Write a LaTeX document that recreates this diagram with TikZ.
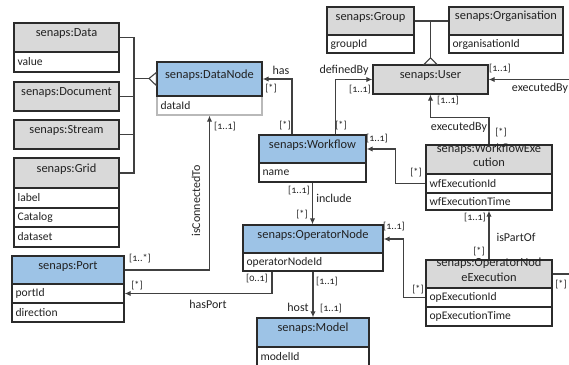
\documentclass[tikz,border=0pt]{standalone}
\usepackage{fontspec}
\setmainfont{Carlito}
\newfontfamily\multfont[Numbers=OldStyle]{Carlito}
\usetikzlibrary{fit,calc,arrows.meta}
\definecolor{hdrblue}{HTML}{9DC3E6}
\definecolor{hdrgray}{HTML}{D9D9D9}
\definecolor{bordc}{HTML}{2B2B2B}
\definecolor{linec}{HTML}{404040}
\definecolor{txtc}{HTML}{222222}
\tikzset{
 box/.style={draw=bordc, line width=1pt, inner sep=0pt, font=\fontsize{9.3}{11}\selectfont, text=txtc, align=center},
 bluebox/.style={box, fill=hdrblue},
 graybox/.style={box, fill=hdrgray},
 rowbox/.style={draw=bordc, line width=1pt, inner sep=0pt, fill=white},
 rowtext/.style={anchor=west, font=\fontsize{8.7}{10}\selectfont, text=txtc, inner sep=0pt},
 conn/.style={draw=linec, line width=0.8pt, -{Latex[length=4.5pt,width=4pt]}},
 plainline/.style={draw=linec, line width=0.8pt},
 lbl/.style={font=\fontsize{9}{10}\selectfont, text=txtc, inner sep=0pt},
 mult/.style={font=\multfont\fontsize{7.6}{8}\selectfont, text=txtc, inner sep=0pt},
}
\newcommand\hdrbox[7]{\node[#6, fit={(#2,#3)(#4,#5)}] (#1) {#7};}
\newcommand\attrow[7]{\node[rowbox, fit={(#2,#3)(#4,#5)}, #6] (#1) {};
  \node[rowtext] at ($(#1.west)+(4,0)$) {#7};}
\begin{document}
\begin{tikzpicture}[x=0.75pt,y=-0.75pt]
\useasboundingbox (0,0) rectangle (569,365);
% ---- classes ----
\hdrbox{data}{14}{23}{119}{52}{graybox}{senaps:Data}
\attrow{data-r1}{14}{52}{119}{72}{}{value}
\hdrbox{doc}{14}{82}{119}{111}{graybox}{senaps:Document}
\hdrbox{stream}{14}{120}{119}{149}{graybox}{senaps:Stream}
\hdrbox{grid}{14}{158}{119}{188}{graybox}{senaps:Grid}
\attrow{grid-r1}{14}{188}{119}{208}{}{label}
\attrow{grid-r2}{14}{208}{119}{227}{}{Catalog}
\attrow{grid-r3}{14}{227}{119}{247}{}{dataset}
\hdrbox{port}{12}{256}{124}{284}{bluebox}{senaps:Port}
\attrow{port-r1}{12}{284}{124}{303}{}{portId}
\attrow{port-r2}{12}{303}{124}{322}{}{direction}
\attrow{dn-r1}{157}{96}{262}{115}{draw=gray!55}{dataId}
\hdrbox{dn}{157}{62}{262}{96}{bluebox}{senaps:DataNode}
\hdrbox{grp}{327}{7}{414}{35}{graybox}{senaps:Group}
\attrow{grp-r1}{327}{35}{414}{53}{}{groupId}
\hdrbox{org}{449}{7}{563}{35}{graybox}{senaps:Organisation}
\attrow{org-r1}{449}{35}{563}{53}{}{organisationId}
\hdrbox{user}{373}{65}{488}{94}{graybox}{senaps:User}
\hdrbox{wf}{259}{135}{366}{163}{bluebox}{senaps:Workflow}
\attrow{wf-r1}{259}{163}{366}{182}{}{name}
\hdrbox{wfe}{426}{145}{552}{174}{graybox}{senaps:WorkflowExe\\cution}
\attrow{wfe-r1}{426}{174}{552}{193}{}{wfExecutionId}
\attrow{wfe-r2}{426}{193}{552}{210}{}{wfExecutionTime}
\hdrbox{opn}{243}{225}{383}{253}{bluebox}{senaps:OperatorNode}
\attrow{opn-r1}{243}{253}{383}{271}{}{operatorNodeId}
\hdrbox{model}{257}{318}{369}{347}{bluebox}{senaps:Model}
\attrow{model-r1}{257}{347}{369}{367}{}{modelId}
\hdrbox{one}{426}{260}{552}{288}{graybox}{senaps:OperatorNod\\eExecution}
\attrow{one-r1}{426}{288}{552}{307}{}{opExecutionId}
\attrow{one-r2}{426}{307}{552}{326}{}{opExecutionTime}
% ---- generalisation: data kinds ----
\coordinate (gj) at (134,78.5);
\draw[plainline] (data.east) -| (gj);
\draw[plainline] (grid.east) -| (gj);
\draw[plainline] (doc.east) -- (doc.east -| gj);
\draw[plainline] (stream.east) -- (stream.east -| gj);
\draw[plainline] (gj) -- ++(15,0) coordinate (gt);
\draw[plainline, fill=white] (gt) -- ($(dn.west)+(0,-6.5)$) -- ($(dn.west)+(0,6.5)$) -- cycle;
% ---- generalisation: user kinds ----
\draw[plainline] (grp.east) -- (org.west);
\coordinate (uj) at (user.north |- grp.east);
\draw[plainline] (uj) -- ++(0,37) coordinate (ut);
\draw[plainline, fill=white] (ut) -- ($(user.north)+(-6.5,0)$) -- ($(user.north)+(6.5,0)$) -- cycle;
% ---- associations ----
\draw[conn] ($(wf.north)+(-20.5,0)$) |- (dn.east);
\draw[conn] ($(wf.north)+(23,0)$) |- (user.west);
\draw[conn] (wfe.north) -- ++(0,-27) -| (user.south);
\draw[conn] (one.east) -- ++(40,0) |- (user.east);
\draw[conn] (wfe-r1.west) -- ++(-30,0) |- (wf.east);
\draw[conn] (wf-r1.south) -- (wf-r1.south |- opn.north);
\draw[conn] (one-r1.west) -- ++(-22,0) |- (opn.east);
\draw[conn] (one.north) -- (one.north |- wfe-r2.south);
\draw[conn] (opn-r1.south) -- (opn-r1.south |- model.north);
\draw[conn] ($(opn-r1.south)+(-41,0)$) |- (port-r1.east);
\draw[conn] (port.east) -| (dn-r1.south);
% ---- labels ----
\node[lbl] (l-has) at (281,70) {has};
\node[mult] (m1) at (271,89) {[*]};
\node[mult] (m2) at (285,126) {[*]};
\node[lbl] (l-def) at (344,70) {definedBy};
\node[mult] (m3) at (360,90) {[1..1]};
\node[mult] (m4) at (341,126) {[*]};
\node[mult] (m5) at (448,101) {[1..1]};
\node[lbl] (l-ex1) at (459,127) {executedBy};
\node[mult] (m6) at (501,133) {[*]};
\node[mult] (m7) at (500,69) {[1..1]};
\node[lbl] (l-ex2) at (540,88) {executedBy};
\node[mult] (m8) at (377,139) {[1..1]};
\node[mult] (m9) at (416,173) {[*]};
\node[mult] (m10) at (299,191) {[1..1]};
\node[lbl] (l-inc) at (334,198) {include};
\node[mult] (m11) at (302,215) {[*]};
\node[mult] (m12) at (394,227) {[1..1]};
\node[mult] (m13) at (418,290) {[*]};
\node[mult] (m14) at (475,218) {[1..1]};
\node[lbl] (l-part) at (516,237) {isPartOf};
\node[mult] (m15) at (479,252) {[*]};
\node[mult] (m16) at (561,285) {[*]};
\node[mult] (m17) at (327,282) {[1..1]};
\node[lbl] (l-host) at (298,307) {host};
\node[mult] (m18) at (331,309) {[1..1]};
\node[mult] (m19) at (257,279) {[0..1]};
\node[lbl] (l-hp) at (208,304) {hasPort};
\node[mult] (m20) at (137,286) {[*]};
\node[mult] (m21) at (140,259) {[1..*]};
\node[lbl, rotate=90] (l-conn) at (196,201) {isConnectedTo};
\node[mult] (m22) at (225,127) {[1..1]};
\end{tikzpicture}
\end{document}
